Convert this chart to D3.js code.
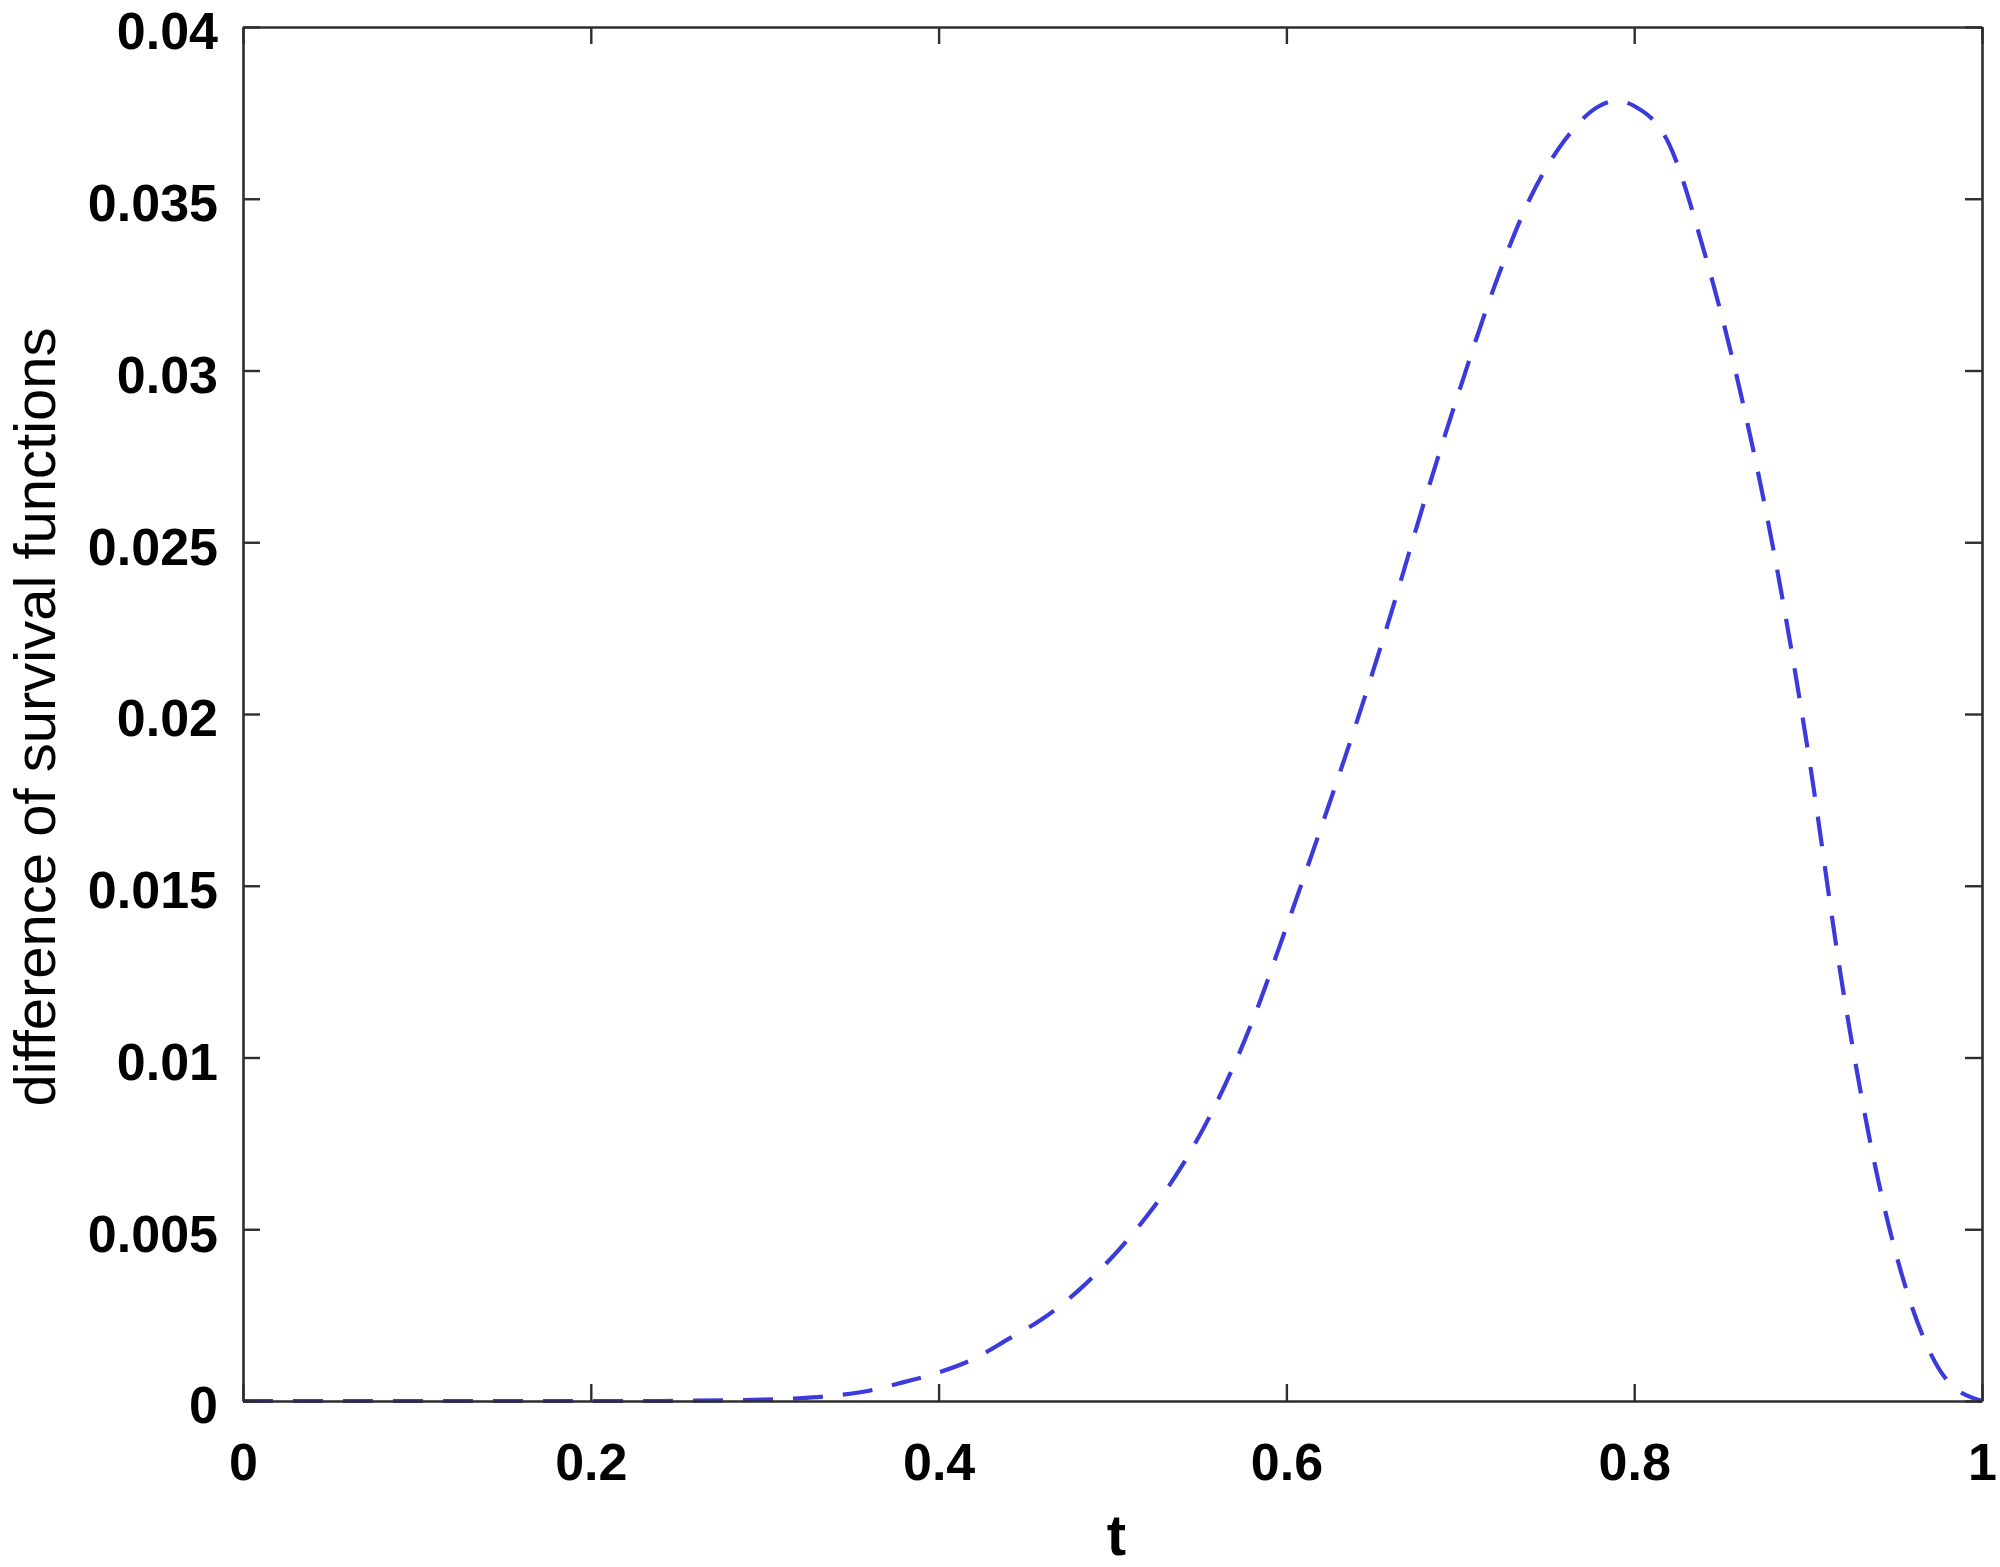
<!DOCTYPE html>
<html>
<head>
<meta charset="utf-8">
<script src="https://cdn.jsdelivr.net/npm/d3@7"></script>
<style>
  html, body { margin: 0; padding: 0; background: #ffffff; }
  svg { display: block; }
</style>
</head>
<body>
<svg id="chart" width="2000" height="1567"></svg>
<script>
// ---- data ----
const tValues = [0.00, 0.02, 0.04, 0.06, 0.08, 0.10, 0.12, 0.14, 0.16, 0.18, 0.20,
                 0.22, 0.24, 0.26, 0.28, 0.30, 0.32, 0.34, 0.36, 0.38, 0.40,
                 0.42, 0.44, 0.46, 0.48, 0.50, 0.52, 0.54, 0.56, 0.58, 0.60,
                 0.62, 0.64, 0.66, 0.68, 0.70, 0.72, 0.74, 0.76, 0.78, 0.79, 0.80,
                 0.82, 0.84, 0.86, 0.88, 0.90, 0.92, 0.94, 0.96, 0.98, 1.00];
const diffValues = [0, 0, 0, 0, 0, 0, 0, 0, 0, 0, 0,
                    0, 0, 0.00001, 0.00002, 0.00004, 0.00008, 0.00016, 0.00030, 0.00055, 0.00083,
                    0.00122, 0.00180, 0.00240, 0.00320, 0.00420, 0.00540, 0.00685, 0.00870, 0.01100, 0.01380,
                    0.01670, 0.01970, 0.02290, 0.02630, 0.02950, 0.03250, 0.03500, 0.03670, 0.03770, 0.03785, 0.03770,
                    0.03660, 0.03350, 0.02960, 0.02480, 0.01890, 0.01200, 0.00650, 0.00270, 0.00060, 0];
const xTicks = [0, 0.2, 0.4, 0.6, 0.8, 1];
const xTickLabels = ["0", "0.2", "0.4", "0.6", "0.8", "1"];
const yTicks = [0, 0.005, 0.01, 0.015, 0.02, 0.025, 0.03, 0.035, 0.04];
const yTickLabels = ["0", "0.005", "0.01", "0.015", "0.02", "0.025", "0.03", "0.035", "0.04"];
const xLabel = "t";
const yLabel = "difference of survival functions";

// ---- layout ----
const plotLeft = 243, plotRight = 1982, plotTop = 27, plotBottom = 1401;
const svg = d3.select("#chart");
const x = d3.scaleLinear().domain([0, 1]).range([plotLeft, plotRight]);
const y = d3.scaleLinear().domain([0, 0.04]).range([plotBottom, plotTop]);

const axisColor = "#2e2e2e";
const tickFont = "'Liberation Sans', Arial, Helvetica, sans-serif";

// plot line
const data = tValues.map((t, i) => ({ t, v: diffValues[i] }));
const line = d3.line().x(d => x(d.t)).y(d => y(d.v)).curve(d3.curveMonotoneX);
svg.append("path")
  .datum(data)
  .attr("d", line)
  .attr("fill", "none")
  .attr("stroke", "#3b3bdc")
  .attr("stroke-width", 4.2)
  .attr("stroke-dasharray", "30,20");

// axes
function styleAxis(g, showLabels) {
  g.attr("font-family", null).attr("font-size", null);
  g.selectAll(".domain").attr("stroke", axisColor).attr("stroke-width", 2.6);
  g.selectAll(".tick line").attr("stroke", axisColor).attr("stroke-width", 2.4);
  g.selectAll(".tick text")
    .attr("fill", "#000")
    .style("font-family", tickFont)
    .style("font-weight", "bold")
    .style("font-size", "52px")
    .style("display", showLabels ? null : "none");
}

const xAxisB = d3.axisBottom(x).tickValues(xTicks)
  .tickFormat((d, i) => xTickLabels[i]).tickSizeInner(-17).tickSizeOuter(0).tickPadding(42);
svg.append("g").attr("transform", `translate(0,${plotBottom})`).call(xAxisB).call(g => styleAxis(g, true));

const xAxisT = d3.axisTop(x).tickValues(xTicks).tickFormat("").tickSizeInner(-17).tickSizeOuter(0);
svg.append("g").attr("transform", `translate(0,${plotTop})`).call(xAxisT).call(g => styleAxis(g, false));

const yAxisL = d3.axisLeft(y).tickValues(yTicks)
  .tickFormat((d, i) => yTickLabels[i]).tickSizeInner(-17).tickSizeOuter(0).tickPadding(25);
svg.append("g").attr("transform", `translate(${plotLeft},0)`).call(yAxisL).call(g => styleAxis(g, true))
  .selectAll(".tick text").attr("dy", "0.42em");

const yAxisR = d3.axisRight(y).tickValues(yTicks).tickFormat("").tickSizeInner(-17).tickSizeOuter(0);
svg.append("g").attr("transform", `translate(${plotRight},0)`).call(yAxisR).call(g => styleAxis(g, false));

// axis labels
svg.append("text")
  .attr("x", (plotLeft + plotRight) / 2 + 4)
  .attr("y", 1555)
  .attr("text-anchor", "middle")
  .style("font-family", tickFont)
  .style("font-weight", "bold")
  .style("font-size", "58px")
  .attr("fill", "#000")
  .text(xLabel);

svg.append("text")
  .attr("transform", `translate(55, 717) rotate(-90)`)
  .attr("text-anchor", "middle")
  .style("font-family", tickFont)
  .style("font-size", "58px")
  .attr("fill", "#000")
  .text(yLabel);
</script>
</body>
</html>
